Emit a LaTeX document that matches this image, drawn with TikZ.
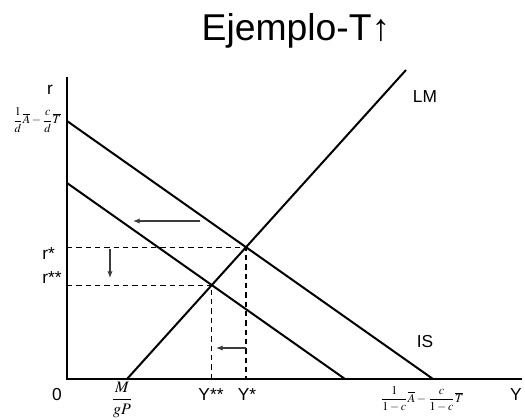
\documentclass[tikz,border=0pt]{standalone}
\usepackage{amsmath}
\usepackage{mathptmx}
\usepackage[no-math]{fontspec}
\setmainfont{Liberation Sans}
\usetikzlibrary{arrows.meta, positioning, intersections, calc}
\definecolor{dgray}{RGB}{60,60,60}

\begin{document}
\begin{tikzpicture}[x=0.75pt, y=-0.75pt,
    curve/.style={line width=1.5pt, black},
    axis/.style={line width=1.1pt, black},
    guide/.style={line width=0.8pt, dash pattern=on 4pt off 3pt},
    moveline/.style={line width=0.9pt, dgray, -{Latex[length=5pt,width=4pt]}},
    lbl/.style={font=\fontsize{13}{15}\selectfont, inner sep=0pt},
    eqn/.style={font=\fontsize{9}{10}\selectfont, inner sep=0pt}]
  \useasboundingbox (0,0) rectangle (525,419);

  % title
  \node[font=\fontsize{28}{32}\selectfont, inner sep=0pt] (title) at (296,31) {Ejemplo-T↑};

  % axes
  \coordinate (O) at (67,379);
  \coordinate (rtop) at (67,77);
  \coordinate (yend) at (522,379);
  \draw[axis] (rtop) -- (O) -- (yend);

  % IS and LM
  \coordinate (is1a) at (67,121);
  \coordinate (is1b) at (433,379);
  \coordinate (is2a) at (67,183);
  \coordinate (is2b) at (345,379);
  \coordinate (lma) at (127,379);
  \coordinate (lmb) at (406,70);
  \draw[curve, name path=is1] (is1a) -- (is1b);
  \draw[curve, name path=is2] (is2a) -- (is2b);
  \draw[curve, name path=lm] (lma) -- (lmb);
  \path[name intersections={of=lm and is1, by=E1}];
  \path[name intersections={of=lm and is2, by=E2}];

  % guides
  \draw[guide] (O |- E1) -- (E1) -- (E1 |- O);
  \draw[guide] (O |- E2) -- (E2) -- (E2 |- O);

  % shifts
  \coordinate (s1a) at (200,221);
  \coordinate (s1b) at (133,221);
  \coordinate (s2a) at (110,249);
  \coordinate (s2b) at (110,278);
  \coordinate (s3a) at (246,348);
  \coordinate (s3b) at (216,348);
  \draw[moveline] (s1a) -- (s1b);
  \draw[moveline] (s2a) -- (s2b);
  \draw[moveline] (s3a) -- (s3b);

  % labels
  \node[lbl] (r) at (50,90) {r};
  \node[eqn] (rint) at (37,120) {$\dfrac{1}{d}\overline{A}-\dfrac{c}{d}\overline{T}$};
  \node[lbl, anchor=west] (rs) at (42,254) {r*};
  \node[lbl, anchor=west] (rss) at (42,278) {r**};
  \node[lbl] (zero) at (57,395) {0};
  \node[inner sep=0pt, font=\fontsize{12}{14}\selectfont] (mgp) at (122,400) {$\dfrac{M}{gP}$};
  \node[lbl] (yss) at (211,395) {Y**};
  \node[lbl] (ys) at (247,395) {Y*};
  \node[eqn] (yint) at (422,399) {$\dfrac{1}{1-c}\overline{A}-\dfrac{c}{1-c}\overline{T}$};
  \node[lbl] (y) at (516,395) {Y};
  \node[lbl] (lm) at (425,97) {LM};
  \node[lbl] (is) at (425,342) {IS};
\end{tikzpicture}
\end{document}
